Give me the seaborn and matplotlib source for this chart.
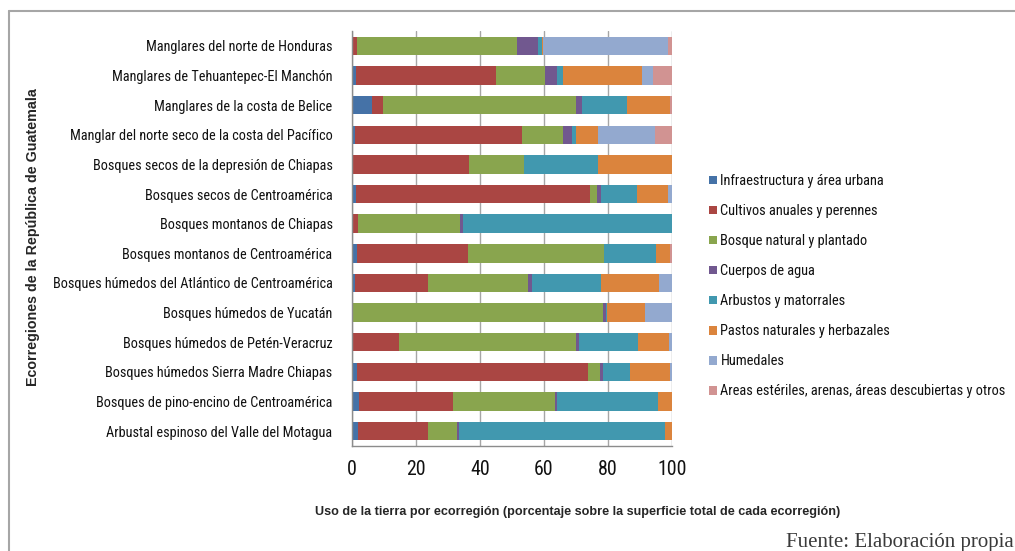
import numpy as np
import pandas as pd
import matplotlib
matplotlib.use("Agg")
import matplotlib.pyplot as plt
from matplotlib import font_manager
import seaborn as sns
from matplotlib.patches import Patch
from matplotlib.lines import Line2D

regions = [
    "Manglares del norte de Honduras",
    "Manglares de Tehuantepec-El Manchón",
    "Manglares de la costa de Belice",
    "Manglar del norte seco de la costa del Pacífico",
    "Bosques secos de la depresión de Chiapas",
    "Bosques secos de Centroamérica",
    "Bosques montanos de Chiapas",
    "Bosques montanos de Centroamérica",
    "Bosques húmedos del Atlántico de Centroamérica",
    "Bosques húmedos de Yucatán",
    "Bosques húmedos de Petén-Veracruz",
    "Bosques húmedos Sierra Madre Chiapas",
    "Bosques de pino-encino de Centroamérica",
    "Arbustal espinoso del Valle del Motagua",
]

categories = [
    "Infraestructura y área urbana",
    "Cultivos anuales y perennes",
    "Bosque natural y plantado",
    "Cuerpos de agua",
    "Arbustos y matorrales",
    "Pastos naturales y herbazales",
    "Humedales",
    "Areas estériles, arenas, áreas descubiertas y otros",
]

infraestructura = [0.0, 1.1, 6.2, 0.9, 0.0, 1.1, 0.0, 1.6, 0.8, 0.0, 0.3, 1.6, 2.3, 1.9]
cultivos = [1.5, 44.0, 3.5, 52.3, 36.6, 73.3, 1.8, 34.6, 22.9, 0.0, 14.3, 72.3, 29.4, 21.8]
bosque = [50.2, 15.3, 60.2, 12.6, 17.1, 2.1, 32.1, 42.4, 31.3, 78.5, 55.3, 3.6, 31.6, 9.0]
agua = [6.4, 3.8, 2.0, 3.1, 0.0, 1.4, 0.9, 0.0, 1.4, 0.9, 1.0, 0.9, 0.7, 0.7]
arbustos = [1.4, 1.6, 14.0, 1.2, 23.3, 11.2, 65.2, 16.5, 21.5, 0.3, 18.5, 8.6, 31.5, 64.3]
pastos = [0.3, 24.9, 13.4, 6.9, 23.0, 9.5, 0.0, 4.4, 18.1, 11.9, 9.6, 12.5, 4.5, 2.3]
humedales = [38.8, 3.4, 0.0, 17.7, 0.0, 1.4, 0.0, 0.0, 4.0, 8.4, 1.0, 0.5, 0.0, 0.0]
esteriles = [1.4, 5.9, 0.7, 5.3, 0.0, 0.0, 0.0, 0.5, 0.0, 0.0, 0.0, 0.0, 0.0, 0.0]

xticks = [0, 20, 40, 60, 80, 100]

colors = ["#4572A7", "#AA4643", "#89A54E", "#71588F",
          "#4198AF", "#DB843D", "#93A9CF", "#D19392"]

sns.set_style("white")

# pick a narrow sans family if one is installed, else Liberation Sans
available = {f.name for f in font_manager.fontManager.ttflist}
narrow = "Liberation Sans"
for cand in ["Liberation Sans Narrow", "Arial Narrow", "Roboto Condensed"]:
    if cand in available:
        narrow = cand
        break
plt.rcParams["font.family"] = [narrow, "Liberation Sans", "DejaVu Sans"]

W, H = 1015, 551
fig = plt.figure(figsize=(W / 100, H / 100), dpi=100)
renderer = fig.canvas.get_renderer()


def fit_size(text, target_px, family, weight="normal", base=10.0):
    t = fig.text(0, 0, text, fontsize=base, family=family, fontweight=weight)
    w = t.get_window_extent(renderer=renderer).width
    t.remove()
    return base * target_px / w


lab_size = fit_size("Manglares del norte de Honduras", 187, [narrow, "DejaVu Sans"])
leg_size = fit_size(categories[-1], 282, [narrow, "DejaVu Sans"])
leg_size = min(leg_size, lab_size * 1.05)
tick_size = fit_size("100", 29, [narrow, "DejaVu Sans"])

ax = fig.add_axes([352 / W, 1 - 446 / H, 320 / W, 415 / H])

series = [infraestructura, cultivos, bosque, agua, arbustos, pastos, humedales, esteriles]
cum = np.cumsum(np.array(series), axis=0)
for k in reversed(range(len(series))):
    df = pd.DataFrame({"region": regions, "value": cum[k]})
    sns.barplot(data=df, x="value", y="region", orient="h", color=colors[k],
                saturation=1, width=0.62, linewidth=0, ax=ax, zorder=2)

ax.set_xlim(0, 100)
ax.set_ylim(len(regions) - 0.5, -0.5)
ax.set_xticks(xticks)
ax.set_xticklabels([str(t) for t in xticks], fontsize=tick_size)
ax.set_xlabel("")
ax.set_ylabel("")
ax.xaxis.grid(True, color="#A6A6A6", linewidth=1.0)
ax.yaxis.grid(False)
ax.set_axisbelow(True)
for s in ["top", "right"]:
    ax.spines[s].set_visible(False)
for s in ["left", "bottom"]:
    ax.spines[s].set_color("#8C8C8C")
    ax.spines[s].set_linewidth(1.0)

ax.tick_params(axis="y", which="major", length=0, pad=14, labelsize=lab_size, labelcolor="#111111")
ax.set_yticks(np.arange(-0.5, len(regions), 1.0), minor=True)
ax.tick_params(axis="y", which="minor", length=5, width=1, color="#8C8C8C", direction="out")
ax.tick_params(axis="x", which="major", length=5, width=1, color="#8C8C8C", direction="out",
               pad=5, labelcolor="#111111")

fig.text(33 / W, 1 - 237 / H, "Ecorregiones de la República de Guatemala",
         rotation=90, ha="center", va="center", fontsize=10.3, fontweight="bold",
         family=["Liberation Sans", "DejaVu Sans"])
fig.text(578 / W, 1 - 512 / H,
         "Uso de la tierra por ecorregión (porcentaje sobre la superficie total de cada ecorregión)",
         ha="center", va="center", fontsize=9.1, fontweight="bold",
         family=["Liberation Sans", "DejaVu Sans"])
fig.text(1014 / W, 1 - 542 / H, "Fuente: Elaboración propia", ha="right", va="center",
         fontsize=15, family=["Liberation Serif", "DejaVu Serif"], color="#3A3A3A")

handles = [Patch(facecolor=c, edgecolor="none") for c in colors]
fig.legend(handles, categories, loc="upper left", bbox_to_anchor=(709 / W, 1 - 174 / H),
           frameon=False, prop={"size": leg_size}, handlelength=0.55, handleheight=0.55,
           handletextpad=0.25, labelspacing=1.12, borderpad=0, borderaxespad=0,
           labelcolor="#111111")

# outer frame (left and top borders)
fig.add_artist(Line2D([9 / W, 9 / W], [0, 1 - 11 / H], transform=fig.transFigure,
                      color="#A6A6A6", linewidth=1.5))
fig.add_artist(Line2D([9 / W, 1], [1 - 11 / H, 1 - 11 / H], transform=fig.transFigure,
                      color="#A6A6A6", linewidth=1.5))

fig.savefig("out.png", dpi=100, facecolor="white")
